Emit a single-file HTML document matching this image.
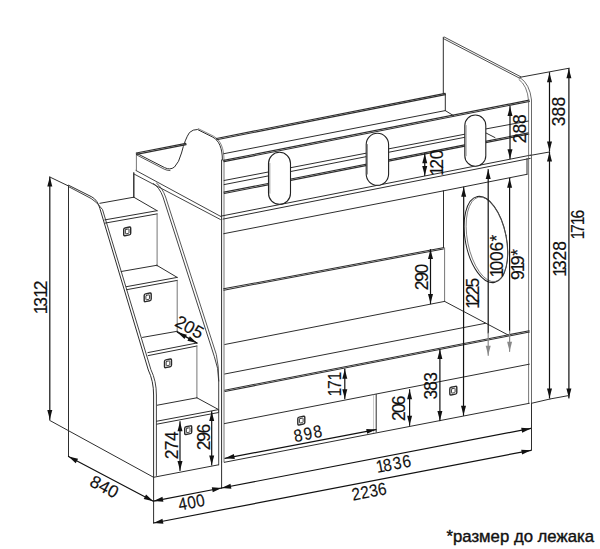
<!DOCTYPE html>
<html><head><meta charset="utf-8"><style>
html,body{margin:0;padding:0;background:#fff;}
svg{display:block;font-family:"Liberation Sans",sans-serif;}
</style></head><body>
<svg width="600" height="549" viewBox="0 0 600 549" stroke-linecap="round" stroke-linejoin="round">
<rect width="600" height="549" fill="#fff"/>
<line x1="49.8" y1="177" x2="49.8" y2="419.5" stroke="#111" stroke-width="1.2"/>
<polygon points="49.80,177.00 52.30,186.50 47.30,186.50" fill="#111"/>
<polygon points="49.80,419.50 47.30,410.00 52.30,410.00" fill="#111"/>
<line x1="49.8" y1="177" x2="68.5" y2="186" stroke="#2e2e2e" stroke-width="1.0"/>
<line x1="49.7" y1="420.4" x2="153.6" y2="477.3" stroke="#2e2e2e" stroke-width="1.0"/>
<g transform="translate(41,297.7) rotate(-90)" font-size="17.5" text-anchor="middle" fill="#111" stroke="#111" stroke-width="0.15"><text transform="translate(-11.64,6.26) scale(1.0,1)">1</text><text transform="translate(-4.10,6.26) scale(1.0,1)">3</text><text transform="translate(4.74,6.26) scale(1.0,1)">1</text><text transform="translate(12.29,6.26) scale(1.0,1)">2</text></g>
<line x1="68.5" y1="186" x2="68.5" y2="456.5" stroke="#2e2e2e" stroke-width="1.0"/>
<path d="M68.5,185.2 L91.8,196.9 Q97.6,200 99.9,208.5 L148.3,370 Q153.6,381 153.6,395 L153.6,477.3" stroke="#2e2e2e" stroke-width="1.0" fill="none"/>
<path d="M68.5,186.6 L91.1,198.5 Q96.2,201.3 102.5,209.5 L150.9,369.6 Q156.4,381 156.4,395 L156.4,475.5" stroke="#2e2e2e" stroke-width="0.9" fill="none"/>
<line x1="68.5" y1="456.5" x2="153.3" y2="501.2" stroke="#111" stroke-width="1.2"/>
<polygon points="68.50,456.50 78.07,458.72 75.74,463.14" fill="#111"/>
<polygon points="153.30,501.20 143.73,498.98 146.06,494.56" fill="#111"/>
<g transform="translate(104.5,486.5) rotate(28)" font-size="17.5" text-anchor="middle" fill="#111" stroke="#111" stroke-width="0.15"><text transform="translate(-9.80,6.26) scale(1.0,1)">8</text><text transform="translate(0.00,6.26) scale(1.0,1)">4</text><text transform="translate(9.80,6.26) scale(1.0,1)">0</text></g>
<line x1="99.9" y1="203.3" x2="133.8" y2="197.2" stroke="#2e2e2e" stroke-width="1.0"/>
<line x1="133.8" y1="197.2" x2="157.1" y2="210.7" stroke="#2e2e2e" stroke-width="1.0"/>
<line x1="104.8" y1="219.9" x2="157.1" y2="210.7" stroke="#2e2e2e" stroke-width="1.0"/>
<line x1="105.1" y1="223.1" x2="157.1" y2="213.89999999999998" stroke="#2e2e2e" stroke-width="1.0"/>
<line x1="157.1" y1="213.89999999999998" x2="157.1" y2="266" stroke="#666" stroke-width="0.9"/>
<line x1="133.8" y1="172.5" x2="133.8" y2="197.2" stroke="#2e2e2e" stroke-width="1.0"/>
<g transform="translate(127.2,231.4) skewY(-11)"><rect x="-3.5" y="-3.9" width="7" height="7.8" rx="1.3" fill="none" stroke="#2a2a2a" stroke-width="1.4"/><rect x="-1.8" y="-2.2" width="3.6" height="4.4" rx="0.5" fill="none" stroke="#3a3a3a" stroke-width="0.9"/></g>
<line x1="121.2" y1="271.5" x2="156.8" y2="265.3" stroke="#2e2e2e" stroke-width="1.0"/>
<line x1="156.8" y1="265.3" x2="177.2" y2="277.4" stroke="#2e2e2e" stroke-width="1.0"/>
<line x1="126.3" y1="286.7" x2="177.2" y2="277.4" stroke="#2e2e2e" stroke-width="1.0"/>
<line x1="126.6" y1="289.7" x2="177.2" y2="280.4" stroke="#2e2e2e" stroke-width="1.0"/>
<line x1="177.2" y1="280.4" x2="177.2" y2="332" stroke="#666" stroke-width="0.9"/>
<g transform="translate(147.7,297.3) skewY(-11)"><rect x="-3.5" y="-3.9" width="7" height="7.8" rx="1.3" fill="none" stroke="#2a2a2a" stroke-width="1.4"/><rect x="-1.8" y="-2.2" width="3.6" height="4.4" rx="0.5" fill="none" stroke="#3a3a3a" stroke-width="0.9"/></g>
<line x1="142.5" y1="337.4" x2="177.2" y2="331.3" stroke="#2e2e2e" stroke-width="1.0"/>
<line x1="177.2" y1="331.3" x2="196.9" y2="343" stroke="#2e2e2e" stroke-width="1.0"/>
<line x1="147.9" y1="352.6" x2="196.9" y2="343" stroke="#2e2e2e" stroke-width="1.0"/>
<line x1="148.20000000000002" y1="355.6" x2="196.9" y2="346.0" stroke="#2e2e2e" stroke-width="1.0"/>
<line x1="196.9" y1="346.0" x2="196.9" y2="397.8" stroke="#666" stroke-width="0.9"/>
<g transform="translate(168,363.3) skewY(-11)"><rect x="-3.5" y="-3.9" width="7" height="7.8" rx="1.3" fill="none" stroke="#2a2a2a" stroke-width="1.4"/><rect x="-1.8" y="-2.2" width="3.6" height="4.4" rx="0.5" fill="none" stroke="#3a3a3a" stroke-width="0.9"/></g>
<line x1="157.3" y1="405.2" x2="196.9" y2="397.8" stroke="#2e2e2e" stroke-width="1.0"/>
<line x1="196.9" y1="397.8" x2="218.6" y2="409.6" stroke="#2e2e2e" stroke-width="1.0"/>
<line x1="156.4" y1="421.3" x2="218.6" y2="409.6" stroke="#2e2e2e" stroke-width="1.0"/>
<line x1="156.70000000000002" y1="424.2" x2="218.6" y2="412.5" stroke="#2e2e2e" stroke-width="1.0"/>
<line x1="218.6" y1="412.5" x2="218.6" y2="409.6" stroke="#666" stroke-width="0.9"/>
<g transform="translate(188.2,430.2) skewY(-11)"><rect x="-3.5" y="-3.9" width="7" height="7.8" rx="1.3" fill="none" stroke="#2a2a2a" stroke-width="1.4"/><rect x="-1.8" y="-2.2" width="3.6" height="4.4" rx="0.5" fill="none" stroke="#3a3a3a" stroke-width="0.9"/></g>
<line x1="153.6" y1="477.3" x2="218.6" y2="464.8" stroke="#2e2e2e" stroke-width="1.0"/>
<line x1="177.4" y1="332.2" x2="196.9" y2="343.1" stroke="#111" stroke-width="1.2"/>
<polygon points="177.40,332.20 186.91,334.65 184.47,339.02" fill="#111"/>
<polygon points="196.90,343.10 187.39,340.65 189.83,336.28" fill="#111"/>
<g transform="translate(189.6,326.8) rotate(29)" font-size="17.5" text-anchor="middle" fill="#111" stroke="#111" stroke-width="0.15"><text transform="translate(-9.80,6.26) scale(1.0,1)">2</text><text transform="translate(0.00,6.26) scale(1.0,1)">0</text><text transform="translate(9.80,6.26) scale(1.0,1)">5</text></g>
<line x1="180" y1="421.7" x2="180" y2="470.5" stroke="#111" stroke-width="1.2"/>
<polygon points="180.00,421.70 182.50,431.20 177.50,431.20" fill="#111"/>
<polygon points="180.00,470.50 177.50,461.00 182.50,461.00" fill="#111"/>
<g transform="translate(171.4,445.3) rotate(-90)" font-size="17.5" text-anchor="middle" fill="#111" stroke="#111" stroke-width="0.15"><text transform="translate(-9.07,6.26) scale(1.0,1)">2</text><text transform="translate(0.00,6.26) scale(1.0,1)">7</text><text transform="translate(9.07,6.26) scale(1.0,1)">4</text></g>
<line x1="211.7" y1="411.5" x2="211.7" y2="465" stroke="#111" stroke-width="1.2"/>
<polygon points="211.70,411.50 214.20,421.00 209.20,421.00" fill="#111"/>
<polygon points="211.70,465.00 209.20,455.50 214.20,455.50" fill="#111"/>
<g transform="translate(203.4,437) rotate(-90)" font-size="17.5" text-anchor="middle" fill="#111" stroke="#111" stroke-width="0.15"><text transform="translate(-8.42,6.26) scale(1.0,1)">2</text><text transform="translate(0.00,6.26) scale(1.0,1)">9</text><text transform="translate(8.42,6.26) scale(1.0,1)">6</text></g>
<line x1="153.6" y1="477.3" x2="153.6" y2="523" stroke="#2e2e2e" stroke-width="1.0"/>
<line x1="221.6" y1="462" x2="221.6" y2="488" stroke="#2e2e2e" stroke-width="1.0"/>
<line x1="153.6" y1="501.1" x2="221.6" y2="488" stroke="#111" stroke-width="1.2"/>
<polygon points="153.60,501.10 162.46,496.85 163.40,501.76" fill="#111"/>
<polygon points="221.60,488.00 212.74,492.25 211.80,487.34" fill="#111"/>
<g transform="translate(191.4,502.1) rotate(-11)" font-size="17.5" text-anchor="middle" fill="#111" stroke="#111" stroke-width="0.15"><text transform="translate(-9.07,6.26) scale(0.88,1)">4</text><text transform="translate(0.00,6.26) scale(0.88,1)">0</text><text transform="translate(9.07,6.26) scale(0.88,1)">0</text></g>
<line x1="153.6" y1="523" x2="531" y2="450.3" stroke="#111" stroke-width="1.2"/>
<polygon points="153.60,523.00 162.46,518.75 163.40,523.66" fill="#111"/>
<polygon points="531.00,450.30 522.14,454.55 521.20,449.64" fill="#111"/>
<g transform="translate(369.1,491.2) rotate(-11)" font-size="17.5" text-anchor="middle" fill="#111" stroke="#111" stroke-width="0.15"><text transform="translate(-13.22,6.26) scale(0.88,1)">2</text><text transform="translate(-4.41,6.26) scale(0.88,1)">2</text><text transform="translate(4.41,6.26) scale(0.88,1)">3</text><text transform="translate(13.22,6.26) scale(0.88,1)">6</text></g>
<line x1="221.6" y1="488" x2="531" y2="428.4" stroke="#111" stroke-width="1.2"/>
<polygon points="221.60,488.00 230.46,483.75 231.40,488.66" fill="#111"/>
<polygon points="531.00,428.40 522.14,432.65 521.20,427.74" fill="#111"/>
<g transform="translate(393.1,463.6) rotate(-11)" font-size="17.5" text-anchor="middle" fill="#111" stroke="#111" stroke-width="0.15"><text transform="translate(-13.07,6.26) scale(0.88,1)">1</text><text transform="translate(-5.88,6.26) scale(0.88,1)">8</text><text transform="translate(3.88,6.26) scale(0.88,1)">3</text><text transform="translate(13.64,6.26) scale(0.88,1)">6</text></g>
<line x1="531.5" y1="403.3" x2="531.5" y2="450.3" stroke="#2e2e2e" stroke-width="1.0"/>
<line x1="136.4" y1="153.7" x2="136.4" y2="170.3" stroke="#555" stroke-width="0.8"/>
<line x1="136.52" y1="154.34" x2="186.12" y2="144.64" stroke="#2e2e2e" stroke-width="1.105"/>
<line x1="136.28" y1="153.06" x2="185.88" y2="143.36" stroke="#2e2e2e" stroke-width="1.105"/>
<path d="M136.8,153.4 L164.6,167.6 Q170,170.5 174.5,167 Q179,162.5 181.5,153 Q185,139 189.5,132.5 Q193,129.3 197.5,129.5 L212.9,137.2 C219,140.5 222.4,148 222.4,160" stroke="#2e2e2e" stroke-width="1.0" fill="none"/>
<path d="M136.8,155 L164.1,169.1 Q167,170.6 170,170.6" stroke="#2e2e2e" stroke-width="0.8" fill="none"/>
<line x1="136" y1="170.5" x2="221.2" y2="216.7" stroke="#2e2e2e" stroke-width="0.9"/>
<line x1="134" y1="174" x2="220.4" y2="219.5" stroke="#2e2e2e" stroke-width="0.9"/>
<line x1="133.8" y1="173.7" x2="133.8" y2="197.2" stroke="#2e2e2e" stroke-width="1.0"/>
<path d="M153.5,183.6 Q159.6,187.5 163,197 L214.3,356.5 Q218.7,368 218.7,381 L218.7,464.8" stroke="#2e2e2e" stroke-width="0.9" fill="none"/>
<path d="M156.6,183.2 Q162.2,187.5 165.6,197 L216.3,354.5 Q218.9,366 218.8,381" stroke="#2e2e2e" stroke-width="0.8" fill="none"/>
<line x1="221.6" y1="160" x2="221.6" y2="462" stroke="#2e2e2e" stroke-width="1.0"/>
<line x1="224" y1="160" x2="224" y2="462" stroke="#666" stroke-width="0.9"/>
<path d="M198.2,128.6 L213.6,136.2 C220.5,140 224,148 224,160" stroke="#555" stroke-width="0.7" fill="none"/>
<line x1="216.73" y1="139.74" x2="445.43" y2="94.64" stroke="#2e2e2e" stroke-width="1.105"/>
<line x1="216.47" y1="138.46" x2="445.17" y2="93.36" stroke="#2e2e2e" stroke-width="1.105"/>
<line x1="223.8" y1="153.7" x2="445.3" y2="110.6" stroke="#2e2e2e" stroke-width="1.0"/>
<line x1="445.3" y1="94" x2="445.3" y2="110.6" stroke="#2e2e2e" stroke-width="1.0"/>
<line x1="445.3" y1="110.6" x2="453.6" y2="115.7" stroke="#2e2e2e" stroke-width="1.0"/>
<line x1="223.93" y1="161.64" x2="529.43" y2="101.44" stroke="#2e2e2e" stroke-width="1.105"/>
<line x1="223.67" y1="160.36" x2="529.17" y2="100.16" stroke="#2e2e2e" stroke-width="1.105"/>
<line x1="224.1" y1="180.5" x2="464.8" y2="134.2" stroke="#2e2e2e" stroke-width="1.0"/>
<line x1="224.1" y1="184.6" x2="464.8" y2="137.3" stroke="#2e2e2e" stroke-width="1.0"/>
<line x1="224.23" y1="193.44" x2="464.93" y2="146.14" stroke="#2e2e2e" stroke-width="1.105"/>
<line x1="223.97" y1="192.16" x2="464.67" y2="144.86" stroke="#2e2e2e" stroke-width="1.105"/>
<line x1="485.5" y1="129" x2="528.6" y2="121" stroke="#2e2e2e" stroke-width="1.0"/>
<line x1="486" y1="133" x2="495" y2="137.6" stroke="#2e2e2e" stroke-width="1.0"/>
<line x1="485.63" y1="142.64" x2="528.73" y2="134.14" stroke="#2e2e2e" stroke-width="1.105"/>
<line x1="485.37" y1="141.36" x2="528.47" y2="132.86" stroke="#2e2e2e" stroke-width="1.105"/>
<line x1="221.1" y1="216.1" x2="530.3" y2="155.2" stroke="#2e2e2e" stroke-width="1.0"/>
<line x1="223" y1="219.1" x2="530.3" y2="158.4" stroke="#2e2e2e" stroke-width="1.0"/>
<line x1="530.3" y1="155.4" x2="549.5" y2="152" stroke="#2e2e2e" stroke-width="1.0"/>
<line x1="223.7" y1="233.7" x2="443.2" y2="190.9" stroke="#2e2e2e" stroke-width="1.0"/>
<line x1="443.2" y1="190.9" x2="527" y2="174.3" stroke="#2e2e2e" stroke-width="1.0"/>
<line x1="527" y1="174.3" x2="527" y2="158.6" stroke="#2e2e2e" stroke-width="1.0"/>
<line x1="443.39" y1="38.6" x2="519.99" y2="78.4" stroke="#2e2e2e" stroke-width="0.85"/>
<line x1="444.21" y1="37.0" x2="520.81" y2="76.8" stroke="#2e2e2e" stroke-width="0.85"/>
<line x1="443.3" y1="37.3" x2="443.3" y2="94.2" stroke="#2e2e2e" stroke-width="1.0"/>
<path d="M520.2,77.7 Q529.8,84 531.5,100 L531.5,403.3" stroke="#444" stroke-width="0.8" fill="none"/>
<path d="M519,79.5 Q527.4,85.5 528.6,101 L528.6,403.3" stroke="#555" stroke-width="0.8" fill="none"/>
<rect x="268.5" y="152.3" width="22" height="52" rx="11.0" ry="11.0" fill="#fff" stroke="#222" stroke-width="1.1"/>
<path d="M269.8,163.3 L269.8,193.3" stroke="#666" stroke-width="0.7"/>
<rect x="366.2" y="133.3" width="22.4" height="52" rx="11.2" ry="11.2" fill="#fff" stroke="#222" stroke-width="1.1"/>
<path d="M367.5,144.5 L367.5,174.10000000000002" stroke="#666" stroke-width="0.7"/>
<rect x="464.8" y="115" width="21" height="51.3" rx="10.5" ry="10.5" fill="#fff" stroke="#222" stroke-width="1.1"/>
<path d="M466.1,125.5 L466.1,155.8" stroke="#666" stroke-width="0.7"/>
<line x1="223.82" y1="290.14" x2="443.32" y2="248.94" stroke="#2e2e2e" stroke-width="1.02"/>
<line x1="223.58" y1="288.86" x2="443.08" y2="247.66" stroke="#2e2e2e" stroke-width="1.02"/>
<line x1="443.5" y1="191" x2="443.5" y2="247.8" stroke="#2e2e2e" stroke-width="1.0"/>
<line x1="444.6" y1="247.8" x2="444.6" y2="301.4" stroke="#666" stroke-width="0.9"/>
<line x1="224.8" y1="344.5" x2="444.6" y2="301.4" stroke="#2e2e2e" stroke-width="1.0"/>
<line x1="444.6" y1="301.4" x2="508.3" y2="335.1" stroke="#2e2e2e" stroke-width="1.0"/>
<line x1="224.8" y1="374" x2="485.5" y2="323.3" stroke="#2e2e2e" stroke-width="1.0"/>
<line x1="224.92" y1="391.44" x2="529.42" y2="332.04" stroke="#2e2e2e" stroke-width="1.02"/>
<line x1="224.68" y1="390.16" x2="529.18" y2="330.76" stroke="#2e2e2e" stroke-width="1.02"/>
<line x1="224.4" y1="423.6" x2="529.3" y2="364.2" stroke="#2e2e2e" stroke-width="1.0"/>
<line x1="376.2" y1="394.5" x2="376.2" y2="432.1" stroke="#2e2e2e" stroke-width="1.0"/>
<line x1="373.5" y1="395" x2="373.5" y2="432.5" stroke="#aaa" stroke-width="0.6"/>
<line x1="224.4" y1="462.3" x2="529.3" y2="403.3" stroke="#2e2e2e" stroke-width="1.0"/>
<g transform="translate(301.3,420.6) skewY(-11)"><rect x="-3.5" y="-3.9" width="7" height="7.8" rx="1.3" fill="none" stroke="#2a2a2a" stroke-width="1.4"/><rect x="-1.8" y="-2.2" width="3.6" height="4.4" rx="0.5" fill="none" stroke="#3a3a3a" stroke-width="0.9"/></g>
<g transform="translate(453.3,390.7) skewY(-11)"><rect x="-3.5" y="-3.9" width="7" height="7.8" rx="1.3" fill="none" stroke="#2a2a2a" stroke-width="1.4"/><rect x="-1.8" y="-2.2" width="3.6" height="4.4" rx="0.5" fill="none" stroke="#3a3a3a" stroke-width="0.9"/></g>
<line x1="225" y1="458.3" x2="376" y2="429.6" stroke="#111" stroke-width="1.2"/>
<polygon points="225.00,458.30 233.87,454.07 234.80,458.98" fill="#111"/>
<polygon points="376.00,429.60 367.13,433.83 366.20,428.92" fill="#111"/>
<g transform="translate(307.7,433.3) rotate(-11)" font-size="17.5" text-anchor="middle" fill="#111" stroke="#111" stroke-width="0.15"><text transform="translate(-9.97,6.26) scale(0.88,1)">8</text><text transform="translate(0.00,6.26) scale(0.88,1)">9</text><text transform="translate(9.97,6.26) scale(0.88,1)">8</text></g>
<ellipse cx="485.9" cy="239.5" rx="20.5" ry="43.75" transform="rotate(-11.2 485.9 239.5)" fill="none" stroke="#222" stroke-width="1"/>
<ellipse cx="486.9" cy="239.3" rx="19.4" ry="43" transform="rotate(-11.2 486.9 239.3)" fill="none" stroke="#555" stroke-width="0.7"/>
<line x1="424.75" y1="153.7" x2="424.75" y2="175.5" stroke="#111" stroke-width="1.2"/>
<polygon points="424.75,153.70 427.25,163.20 422.25,163.20" fill="#111"/>
<polygon points="424.75,175.50 422.25,166.00 427.25,166.00" fill="#111"/>
<g transform="translate(436.9,163) rotate(-90)" font-size="17.5" text-anchor="middle" fill="#111" stroke="#111" stroke-width="0.15"><text transform="translate(-7.84,6.26) scale(1.0,1)">1</text><text transform="translate(-0.97,6.26) scale(1.0,1)">2</text><text transform="translate(8.49,6.26) scale(1.0,1)">0</text></g>
<line x1="510" y1="106.4" x2="510" y2="158.7" stroke="#111" stroke-width="1.2"/>
<polygon points="510.00,106.40 512.50,115.90 507.50,115.90" fill="#111"/>
<polygon points="510.00,158.70 507.50,149.20 512.50,149.20" fill="#111"/>
<g transform="translate(519.3,128.7) rotate(-90)" font-size="17.5" text-anchor="middle" fill="#111" stroke="#111" stroke-width="0.15"><text transform="translate(-9.67,6.26) scale(1.0,1)">2</text><text transform="translate(0.00,6.26) scale(1.0,1)">8</text><text transform="translate(9.67,6.26) scale(1.0,1)">8</text></g>
<line x1="549.5" y1="72.7" x2="549.5" y2="151.1" stroke="#111" stroke-width="1.2"/>
<polygon points="549.50,72.70 552.00,82.20 547.00,82.20" fill="#111"/>
<polygon points="549.50,151.10 547.00,141.60 552.00,141.60" fill="#111"/>
<g transform="translate(558.7,111.6) rotate(-90)" font-size="17.5" text-anchor="middle" fill="#111" stroke="#111" stroke-width="0.15"><text transform="translate(-9.88,6.26) scale(1.0,1)">3</text><text transform="translate(0.00,6.26) scale(1.0,1)">8</text><text transform="translate(9.88,6.26) scale(1.0,1)">8</text></g>
<line x1="520" y1="77.3" x2="569.2" y2="68.2" stroke="#2e2e2e" stroke-width="1.0"/>
<line x1="568.9" y1="68.7" x2="568.9" y2="397.9" stroke="#111" stroke-width="1.2"/>
<polygon points="568.90,68.70 571.40,78.20 566.40,78.20" fill="#111"/>
<polygon points="568.90,397.90 566.40,388.40 571.40,388.40" fill="#111"/>
<g transform="translate(577.6,225) rotate(-90)" font-size="17.5" text-anchor="middle" fill="#111" stroke="#111" stroke-width="0.15"><text transform="translate(-10.20,6.26) scale(0.9,1)">1</text><text transform="translate(-3.60,6.26) scale(0.9,1)">7</text><text transform="translate(4.18,6.26) scale(0.9,1)">1</text><text transform="translate(10.79,6.26) scale(0.9,1)">6</text></g>
<line x1="549.5" y1="152" x2="549.5" y2="397.9" stroke="#111" stroke-width="1.2"/>
<polygon points="549.50,152.00 552.00,161.50 547.00,161.50" fill="#111"/>
<polygon points="549.50,397.90 547.00,388.40 552.00,388.40" fill="#111"/>
<g transform="translate(560,259.3) rotate(-90)" font-size="17.5" text-anchor="middle" fill="#111" stroke="#111" stroke-width="0.15"><text transform="translate(-12.64,6.26) scale(1.0,1)">1</text><text transform="translate(-5.73,6.26) scale(1.0,1)">3</text><text transform="translate(3.78,6.26) scale(1.0,1)">2</text><text transform="translate(13.29,6.26) scale(1.0,1)">8</text></g>
<line x1="531.5" y1="403.3" x2="550" y2="399" stroke="#2e2e2e" stroke-width="1.0"/>
<line x1="550" y1="399" x2="569" y2="395.5" stroke="#2e2e2e" stroke-width="1.0"/>
<line x1="463.7" y1="187.2" x2="463.5" y2="415.3" stroke="#111" stroke-width="1.2"/>
<polygon points="463.70,187.20 466.19,196.70 461.19,196.70" fill="#111"/>
<polygon points="463.50,415.30 461.01,405.80 466.01,405.80" fill="#111"/>
<g transform="translate(473,293.6) rotate(-90)" font-size="17.5" text-anchor="middle" fill="#111" stroke="#111" stroke-width="0.15"><text transform="translate(-10.39,6.26) scale(1.0,1)">1</text><text transform="translate(-4.76,6.26) scale(1.0,1)">2</text><text transform="translate(3.14,6.26) scale(1.0,1)">2</text><text transform="translate(11.04,6.26) scale(1.0,1)">5</text></g>
<line x1="488.2" y1="169.5" x2="488.2" y2="333" stroke="#111" stroke-width="1.2"/>
<polygon points="488.20,169.50 490.70,179.00 485.70,179.00" fill="#111"/>
<line x1="488.2" y1="333" x2="488.2" y2="355.3" stroke="#888" stroke-width="1.2"/>
<polygon points="488.20,355.30 485.70,345.80 490.70,345.80" fill="#888"/>
<g transform="translate(496.9,255.7) rotate(-90)" font-size="17.5" text-anchor="middle" fill="#111" stroke="#111" stroke-width="0.15"><text transform="translate(-16.87,6.26) scale(1.0,1)">1</text><text transform="translate(-9.93,6.26) scale(1.0,1)">0</text><text transform="translate(-0.38,6.26) scale(1.0,1)">0</text><text transform="translate(9.16,6.26) scale(1.0,1)">6</text><text transform="translate(17.51,6.26) scale(1.0,1)">*</text></g>
<line x1="509.6" y1="178.3" x2="509.6" y2="331" stroke="#111" stroke-width="1.2"/>
<polygon points="509.60,178.30 512.10,187.80 507.10,187.80" fill="#111"/>
<line x1="509.6" y1="331" x2="509.6" y2="351.3" stroke="#888" stroke-width="1.2"/>
<polygon points="509.60,351.30 507.10,341.80 512.10,341.80" fill="#888"/>
<g transform="translate(518,263.7) rotate(-90)" font-size="17.5" text-anchor="middle" fill="#111" stroke="#111" stroke-width="0.15"><text transform="translate(-11.40,6.26) scale(1.0,1)">9</text><text transform="translate(-3.40,6.26) scale(1.0,1)">1</text><text transform="translate(3.30,6.26) scale(1.0,1)">9</text><text transform="translate(11.40,6.26) scale(1.0,1)">*</text></g>
<line x1="430.5" y1="249.5" x2="430.5" y2="303.6" stroke="#111" stroke-width="1.2"/>
<polygon points="430.50,249.50 433.00,259.00 428.00,259.00" fill="#111"/>
<polygon points="430.50,303.60 428.00,294.10 433.00,294.10" fill="#111"/>
<g transform="translate(422,277) rotate(-90)" font-size="17.5" text-anchor="middle" fill="#111" stroke="#111" stroke-width="0.15"><text transform="translate(-8.32,6.26) scale(1.0,1)">2</text><text transform="translate(0.00,6.26) scale(1.0,1)">9</text><text transform="translate(8.32,6.26) scale(1.0,1)">0</text></g>
<line x1="344.8" y1="369.2" x2="344.8" y2="398.7" stroke="#111" stroke-width="1.2"/>
<polygon points="344.80,369.20 347.30,378.70 342.30,378.70" fill="#111"/>
<polygon points="344.80,398.70 342.30,389.20 347.30,389.20" fill="#111"/>
<g transform="translate(334.5,384.7) rotate(-90)" font-size="17.5" text-anchor="middle" fill="#111" stroke="#111" stroke-width="0.15"><text transform="translate(-7.42,6.26) scale(0.9,1)">1</text><text transform="translate(0.00,6.26) scale(0.9,1)">7</text><text transform="translate(8.58,6.26) scale(0.9,1)">1</text></g>
<line x1="409.6" y1="389.7" x2="409.6" y2="425.3" stroke="#111" stroke-width="1.2"/>
<polygon points="409.60,389.70 412.10,399.20 407.10,399.20" fill="#111"/>
<polygon points="409.60,425.30 407.10,415.80 412.10,415.80" fill="#111"/>
<g transform="translate(398.8,408.2) rotate(-90)" font-size="17.5" text-anchor="middle" fill="#111" stroke="#111" stroke-width="0.15"><text transform="translate(-7.82,6.26) scale(1.0,1)">2</text><text transform="translate(0.00,6.26) scale(1.0,1)">0</text><text transform="translate(7.82,6.26) scale(1.0,1)">6</text></g>
<line x1="439.9" y1="349.5" x2="439.9" y2="420.6" stroke="#111" stroke-width="1.2"/>
<polygon points="439.90,349.50 442.40,359.00 437.40,359.00" fill="#111"/>
<polygon points="439.90,420.60 437.40,411.10 442.40,411.10" fill="#111"/>
<g transform="translate(431,385.8) rotate(-90)" font-size="17.5" text-anchor="middle" fill="#111" stroke="#111" stroke-width="0.15"><text transform="translate(-8.88,6.26) scale(1.0,1)">3</text><text transform="translate(0.00,6.26) scale(1.0,1)">8</text><text transform="translate(8.88,6.26) scale(1.0,1)">3</text></g>
<text x="446.5" y="541.5" font-size="17" fill="#111" stroke="#111" stroke-width="0.4" textLength="147.5" lengthAdjust="spacingAndGlyphs">*размер до лежака</text>
</svg></body></html>
